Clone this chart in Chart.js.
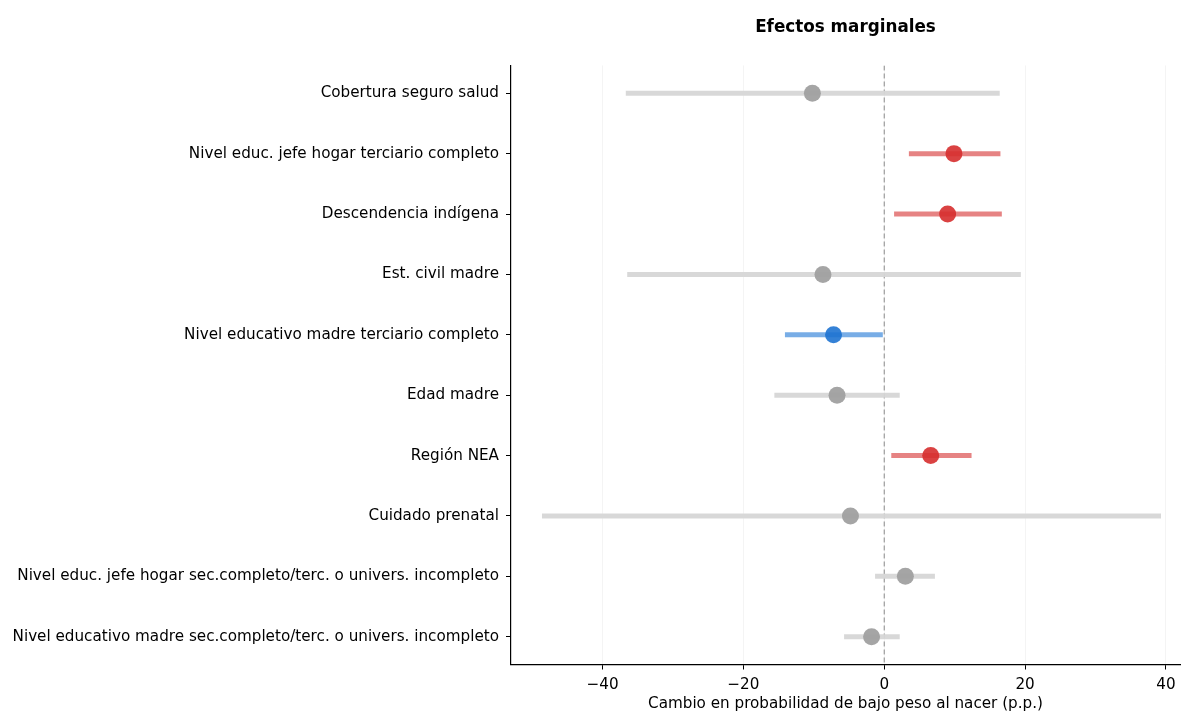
<!DOCTYPE html>
<html>
<head>
<meta charset="utf-8">
<script src="https://cdn.jsdelivr.net/npm/chart.js@4/dist/chart.umd.min.js"></script>
<style>
  html, body { margin: 0; padding: 0; background: #fff; }
  #wrap { width: 1182px; height: 712px; }
</style>
</head>
<body>
<div id="wrap"><canvas id="c" width="1182" height="712"></canvas></div>
<script>
const labels = [
  "Cobertura seguro salud",
  "Nivel educ. jefe hogar terciario completo",
  "Descendencia indígena",
  "Est. civil madre",
  "Nivel educativo madre terciario completo",
  "Edad madre",
  "Región NEA",
  "Cuidado prenatal",
  "Nivel educ. jefe hogar sec.completo/terc. o univers. incompleto",
  "Nivel educativo madre sec.completo/terc. o univers. incompleto"
];
const estimates = [-10.2, 9.9, 9.0, -8.7, -7.2, -6.7, 6.6, -4.8, 3.0, -1.8];
const lower     = [-36.7, 3.5, 1.4, -36.5, -14.1, -15.6, 1.0, -48.6, -1.3, -5.7];
const upper     = [16.4, 16.5, 16.7, 19.4, -0.2, 2.2, 12.4, 39.3, 7.2, 2.2];
const xTicks = [-40, -20, 0, 20, 40];

const FONT = "'DejaVu Sans', sans-serif";
function ciColor(i) {
  if (lower[i] > 0) return 'rgba(224,100,100,0.8)';
  if (upper[i] < 0) return 'rgba(90,155,225,0.82)';
  return 'rgba(214,214,214,0.95)';
}
function dotColor(i) {
  if (lower[i] > 0) return 'rgba(214,45,45,0.9)';
  if (upper[i] < 0) return 'rgba(30,115,210,0.9)';
  return 'rgba(160,160,160,0.95)';
}

const yMin = -0.46, yMax = labels.length - 1 + 0.46;
const datasets = [];
datasets.push({
  label: 'estimates',
  data: estimates.map((v, i) => ({x: v, y: i})),
  pointRadius: 8.5,
  pointHoverRadius: 8.5,
  pointBackgroundColor: estimates.map((_, i) => dotColor(i)),
  pointBorderWidth: 0,
  showLine: false,
  order: 0
});
labels.forEach((_, i) => {
  datasets.push({
    label: 'ci' + i,
    data: [{x: lower[i], y: i}, {x: upper[i], y: i}],
    showLine: true,
    borderColor: ciColor(i),
    borderWidth: 5,
    borderCapStyle: 'butt',
    pointRadius: 0,
    order: 1
  });
});
datasets.push({
  label: 'zero',
  data: [{x: 0, y: yMin}, {x: 0, y: yMax}],
  showLine: true,
  borderColor: '#8a8a8a',
  borderWidth: 1,
  borderDash: [5, 3],
  pointRadius: 0,
  order: 2
});

new Chart(document.getElementById('c'), {
  type: 'scatter',
  data: { datasets },
  options: {
    responsive: false,
    animation: false,
    layout: { autoPadding: false, padding: { left: 0, right: 2, top: 0, bottom: 0 } },
    plugins: {
      legend: { display: false },
      tooltip: { enabled: false },
      title: {
        display: true,
        text: 'Efectos marginales',
        fullSize: false,
        color: '#000',
        font: { family: FONT, size: 16.8, weight: 'bold', lineHeight: 1.2 },
        padding: { top: 18, bottom: 27.3 }
      }
    },
    scales: {
      x: {
        type: 'linear',
        min: -53, max: 42,
        afterBuildTicks: s => { s.ticks = xTicks.map(v => ({value: v})); },
        afterFit: s => { s.height = 47.5; s.paddingLeft = 0; s.paddingRight = 0; },
        ticks: { color: '#000', font: { family: FONT, size: 15.2 }, padding: 6,
                 callback: v => (v < 0 ? '\u2212' + Math.abs(v) : String(v)) },
        grid: { color: 'rgba(0,0,0,0.045)', lineWidth: 1, tickColor: '#000', tickLength: 5 },
        border: { color: '#000', width: 1.2 },
        title: { display: true, text: 'Cambio en probabilidad de bajo peso al nacer (p.p.)',
                 color: '#000', font: { family: FONT, size: 15.2, lineHeight: 1.0 }, padding: { top: 0, bottom: 0 } }
      },
      y: {
        type: 'linear',
        reverse: true,
        min: yMin, max: yMax,
        afterBuildTicks: s => { s.ticks = labels.map((_, i) => ({value: i})); },
        afterFit: s => { s.width = 511; s.paddingTop = 0; s.paddingBottom = 0; },
        ticks: { color: '#000', font: { family: FONT, size: 15.2 }, padding: 7,
                 callback: v => labels[v] },
        grid: { drawOnChartArea: false, tickColor: '#000', tickLength: 5 },
        border: { color: '#000', width: 1.2 }
      }
    }
  }
});
</script>
</body>
</html>
